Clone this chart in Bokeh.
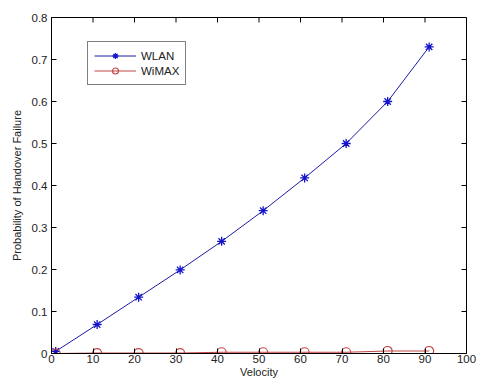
import math
from bokeh.plotting import figure
from bokeh.models import Range1d, FixedTicker, Legend, LegendItem
from bokeh.embed import file_html
from bokeh.resources import INLINE

velocity = [1, 11, 21, 31, 41, 51, 61, 71, 81, 91]
wlan = [0.005, 0.069, 0.134, 0.199, 0.267, 0.340, 0.418, 0.500, 0.600, 0.730]
wimax = [0.0, 0.001, 0.001, 0.001, 0.003, 0.003, 0.003, 0.003, 0.006, 0.006]
x_ticks = [0, 10, 20, 30, 40, 50, 60, 70, 80, 90, 100]
y_ticks = [0, 0.1, 0.2, 0.3, 0.4, 0.5, 0.6, 0.7, 0.8]
y_labels = ["0", "0.1", "0.2", "0.3", "0.4", "0.5", "0.6", "0.7", "0.8"]
x_min, x_max = 0, 100
y_min, y_max = 0, 0.8

FONT = "Liberation Sans"

p = figure(width=480, height=380, output_backend="svg", toolbar_location=None,
           x_range=Range1d(x_min, x_max), y_range=Range1d(y_min, y_max),
           x_axis_label="Velocity", y_axis_label="Probability of Handover Failure",
           min_border_left=51, min_border_right=14, min_border_top=17, min_border_bottom=0)
p.grid.visible = False
p.outline_line_color = "black"
p.outline_line_width = 1
p.background_fill_color = "white"
p.border_fill_color = "white"

for ax in p.xaxis:
    ax.ticker = FixedTicker(ticks=x_ticks)
for ax in p.yaxis:
    ax.ticker = FixedTicker(ticks=y_ticks)
    ax.major_label_overrides = {t: l for t, l in zip(y_ticks, y_labels)}

for ax in list(p.xaxis) + list(p.yaxis):
    ax.major_tick_in = 5
    ax.major_tick_out = 0
    ax.minor_tick_in = 0
    ax.minor_tick_out = 0
    ax.axis_line_color = "black"
    ax.major_tick_line_color = "black"
    ax.major_label_text_font = FONT
    ax.major_label_text_font_size = "11.5px"
    ax.major_label_text_color = "#222222"
    ax.axis_label_text_font = FONT
    ax.axis_label_text_font_size = "11px"
    ax.axis_label_text_font_style = "normal"
    ax.axis_label_text_color = "#222222"
    ax.major_label_standoff = 1
    ax.axis_label_standoff = 0
p.yaxis.major_label_standoff = 4
p.yaxis.axis_label_standoff = 6

# top and right inward ticks (MATLAB box style)
p.ray(x=x_ticks, y=[y_max] * len(x_ticks), length=5, length_units="screen",
      angle=-math.pi / 2, line_color="black", line_width=1)
p.ray(x=[x_max] * len(y_ticks), y=y_ticks, length=5, length_units="screen",
      angle=math.pi, line_color="black", line_width=1)

blue = "#1c1ca0"
marker_blue = "#1414c8"
red = "#c44646"

l1 = p.line(velocity, wlan, line_color=blue, line_width=1)
m1 = p.scatter(velocity, wlan, marker="asterisk", size=9, line_color=marker_blue, line_width=1.3)
l2 = p.line(velocity, wimax, line_color=red, line_width=1.2)
m2 = p.scatter(velocity, wimax, marker="circle", size=9, line_color=red, fill_color=None, line_width=1.2)

legend = Legend(items=[LegendItem(label="WLAN", renderers=[l1, m1]),
                       LegendItem(label="WiMAX", renderers=[l2, m2])],
                location=(36, 268))
legend.label_text_font = FONT
legend.label_text_font_size = "11.5px"
legend.label_text_color = "#222222"
legend.border_line_color = "black"
legend.border_line_width = 1
legend.padding = 6
legend.spacing = 0
legend.margin = 0
legend.glyph_width = 42
legend.glyph_height = 15
legend.label_height = 15
legend.label_standoff = 5
p.add_layout(legend, "center")

open("out.html", "w").write(file_html(p, INLINE))
